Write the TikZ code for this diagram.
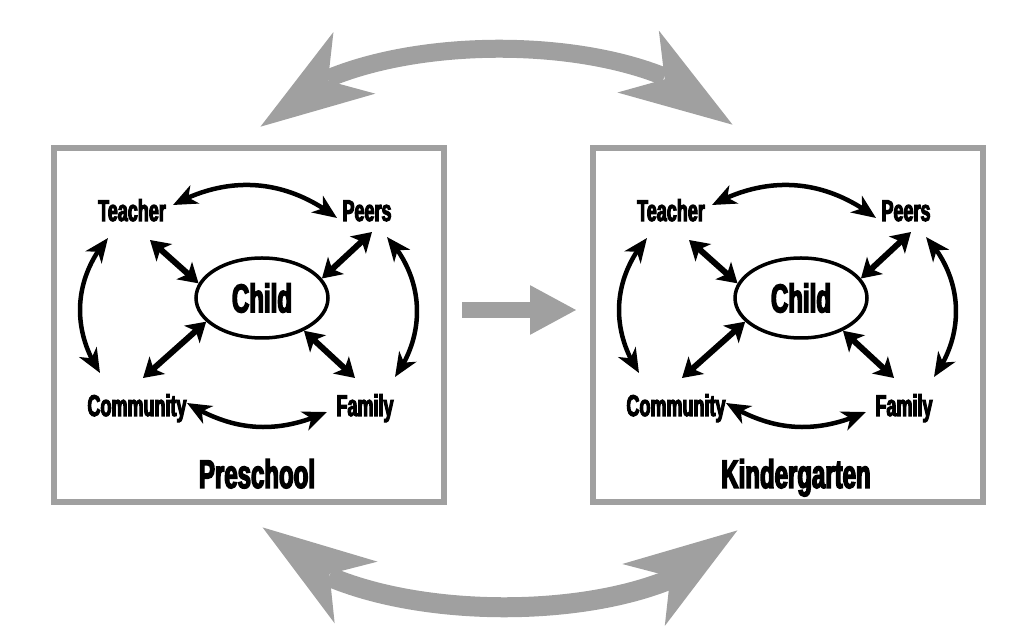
\documentclass[tikz,border=0pt]{standalone}
\usepackage{fontspec}
\usepackage{tikz}
\usetikzlibrary{arrows.meta,bending,calc,shapes.geometric}
\newfontfamily\labelfont{Liberation Sans Bold}[FakeStretch=0.6,FakeBold=3.5]
\definecolor{softgray}{RGB}{160,160,160}

\begin{document}
\begin{tikzpicture}[x=1pt, y=1pt,
    panel/.style = {draw=softgray, line width=6pt, minimum width=390pt, minimum height=354pt, inner sep=0pt},
    word/.style = {font=\labelfont\fontsize{30}{30}\selectfont, inner sep=1pt, anchor=base},
    core/.style = {draw, ellipse, line width=3.5pt, minimum width=132pt, minimum height=80pt, inner sep=0pt,
                   font=\labelfont\fontsize{40}{40}\selectfont},
    ring/.style = {line width=4.5pt, {Stealth[length=24pt,width=20pt,inset=7pt,flex]}-{Stealth[length=24pt,width=20pt,inset=7pt,flex]}},
    spoke/.style = {line width=6pt, {Stealth[length=19pt,width=23pt,inset=5pt]}-{Stealth[length=19pt,width=23pt,inset=5pt]}},
    swoop/.style = {softgray, line width=18pt, {Stealth[length=112pt,width=72pt,inset=30pt,flex]}-{Stealth[length=112pt,width=72pt,inset=30pt,flex]}}]
    \useasboundingbox (0,0) rectangle (1018,637);

    % one panel per stage
    \foreach \dx/\n/\stage in {0/P/Preschool, 539/K/Kindergarten} {
        \node[panel] (\n-box) at (\dx+249,312) {};
        \node[word] (\n-T) at (\dx+132,416) {Teacher};
        \node[word] (\n-P) at (\dx+367,416) {Peers};
        \node[word] (\n-C) at (\dx+137,221) {Community};
        \node[word] (\n-F) at (\dx+365,221) {Family};
        \node[core] (\n-ch) at (\dx+262,339) {Child};
        \node[word, font=\labelfont\fontsize{40}{40}\selectfont] (\n-name) at (\dx+257,149) {\stage};

        % links around the outside
        \draw[ring] ($(\n-T.base)+(41,16)$) to[bend left=33] ($(\n-P.base)+(-30,3)$);
        \draw[ring] ($(\n-C.base)+(50,13)$) to[bend right=28] ($(\n-F.base)+(-38,4)$);
        \draw[ring] ($(\n-T.base)+(-24,-17)$) to[bend right=37] ($(\n-C.base)+(-37,43)$);
        \draw[ring] ($(\n-P.base)+(20,-16)$) to[bend left=39] ($(\n-F.base)+(30,39)$);

        % links to the child
        \draw[spoke] ($(\n-T.base)+(18,-19)$) -- (\n-ch.167);
        \draw[spoke] ($(\n-P.base)+(5,-11)$) -- (\n-ch.18);
        \draw[spoke] ($(\n-C.base)+(6,38)$) -- (\n-ch.203);
        \draw[spoke] ($(\n-F.base)+(-10,38)$) -- (\n-ch.322);
    }

    % move from one stage to the next
    \draw[softgray, line width=16pt, -{Triangle[length=47pt,width=46pt]}, shorten <=15pt, shorten >=13pt]
        ([yshift=15pt]P-box.east) -- ([yshift=15pt]K-box.west);

    % big swoops above and below
    \coordinate (up-l) at (260,510);
    \coordinate (up-r) at (733,512);
    \coordinate (lo-l) at (262,110);
    \coordinate (lo-r) at (738,107);
    \draw[swoop] (up-l) .. controls (335,613) and (658,615) .. (up-r);
    \draw[swoop, line width=20pt] (lo-l) .. controls (332,5) and (668,2) .. (lo-r);
\end{tikzpicture}
\end{document}
